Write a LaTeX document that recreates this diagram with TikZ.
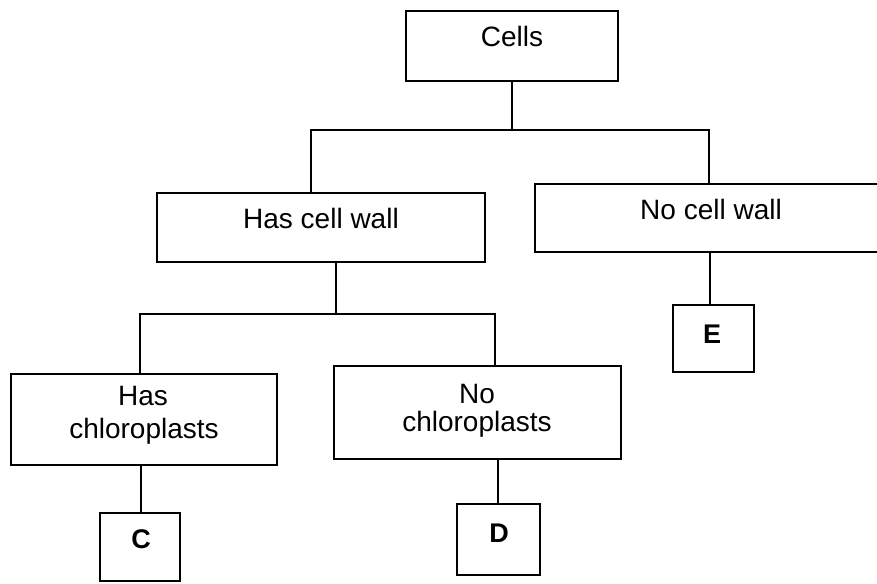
\documentclass[tikz,border=0pt]{standalone}
\usepackage{fontspec}
\setmainfont{Liberation Sans}
\begin{document}
\begin{tikzpicture}[x=1pt,y=-1pt,
  box/.style={draw=black,line width=1.8pt,inner sep=0pt,fill=none},
  lbl/.style={inner sep=0pt,anchor=base,font=\fontsize{28}{33}\selectfont},
  letter/.style={inner sep=0pt,anchor=base,font=\fontsize{27}{32}\selectfont\bfseries},
  conn/.style={draw=black,line width=1.8pt}]
\clip (0,0) rectangle (877,583);
\fill[white] (0,0) rectangle (877,583);
% boxes
\node[box,minimum width=212pt,minimum height=70pt] (cells) at (512,46) {};
\node[box,minimum width=328pt,minimum height=69pt] (hcw) at (321,227.5) {};
\node[box,minimum width=350pt,minimum height=68pt] (ncw) at (710,218) {};
\node[box,minimum width=266pt,minimum height=91pt] (hc) at (144,419.5) {};
\node[box,minimum width=287pt,minimum height=93pt] (nc) at (477.5,412.5) {};
\node[box,minimum width=81pt,minimum height=67pt] (e) at (713.5,338.5) {};
\node[box,minimum width=80pt,minimum height=68pt] (c) at (140,547) {};
\node[box,minimum width=83pt,minimum height=71pt] (d) at (498.5,539.5) {};
% texts
\node[lbl] (tcells) at (512,47) {Cells};
\node[lbl] (thcw) at (321,228) {Has cell wall};
\node[lbl] (tncw) at (711,219) {No cell wall};
\node[lbl] (thc1) at (143,405) {Has};
\node[lbl] (thc2) at (144,438) {chloroplasts};
\node[lbl] (tnc1) at (477,403) {No};
\node[lbl] (tnc2) at (477,431) {chloroplasts};
\node[letter] (tc) at (141,548) {C};
\node[letter] (td) at (499,542) {D};
\node[letter] (te) at (712,343) {E};
% junctions
\coordinate (b1l) at (311,130);
\coordinate (b1r) at (709,130);
\coordinate (b2l) at (140,314);
\coordinate (b2r) at (495,314);
\coordinate (x2) at (336,0);
\coordinate (xc) at (141,0);
\coordinate (xd) at (498,0);
\coordinate (xe) at (710,0);
% connectors
\draw[conn] (cells.south) -- (cells.south |- b1l);
\draw[conn] (hcw.north -| b1l) -- (b1l) -- (b1r) -- (ncw.north -| b1r);
\draw[conn] (hcw.south -| x2) -- (b2l -| x2);
\draw[conn] (hc.north -| b2l) -- (b2l) -- (b2r) -- (nc.north -| b2r);
\draw[conn] (hc.south -| xc) -- (c.north -| xc);
\draw[conn] (nc.south -| xd) -- (d.north -| xd);
\draw[conn] (ncw.south -| xe) -- (e.north -| xe);
\end{tikzpicture}
\end{document}
